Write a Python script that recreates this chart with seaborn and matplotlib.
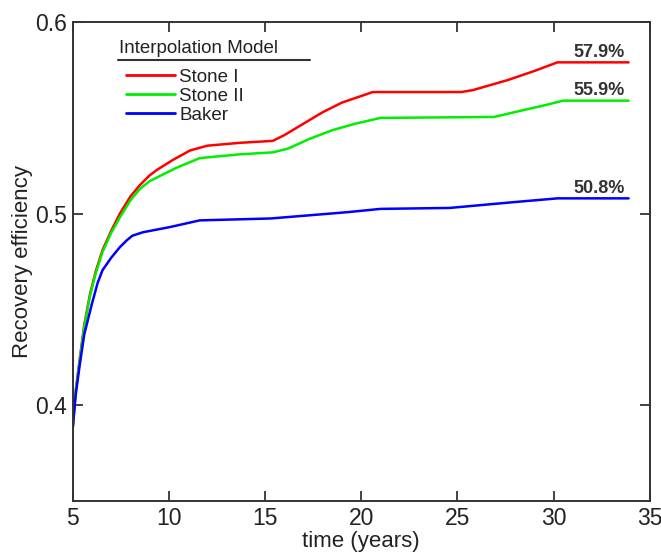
import numpy as np
import pandas as pd
import matplotlib
matplotlib.use("Agg")
import matplotlib.pyplot as plt
import seaborn as sns

# Recovery efficiency over time for three relative-permeability interpolation models
stone1_t = [5, 5.15, 5.35, 5.6, 5.9, 6.2, 6.55, 7.0, 7.45, 8.0, 8.5, 9.0, 9.4, 10.2,
            11.1, 12, 13.7, 15.4, 16, 17, 18, 19, 20.6, 25.2, 25.8, 27.6, 29, 30.2,
            33.9]
stone1_e = [0.388, 0.407, 0.423, 0.442, 0.458, 0.470, 0.481, 0.491, 0.500, 0.509,
            0.515, 0.520, 0.523, 0.528, 0.533, 0.5355, 0.537, 0.538, 0.541, 0.547,
            0.553, 0.558, 0.5635, 0.5635, 0.5645, 0.5697, 0.5745, 0.579, 0.579]

stone2_t = [5, 5.15, 5.35, 5.6, 5.9, 6.2, 6.55, 7.0, 7.45, 8.0, 8.5, 9.0, 9.4, 10.4,
            11.6, 13.7, 15.4, 16.2, 17.3, 18.5, 19.7, 21, 26.9, 28.4, 29.5, 30.5,
            33.9]
stone2_e = [0.388, 0.407, 0.422, 0.441, 0.457, 0.469, 0.480, 0.490, 0.498, 0.507,
            0.513, 0.517, 0.519, 0.524, 0.529, 0.531, 0.532, 0.534, 0.539, 0.5436,
            0.547, 0.550, 0.5505, 0.554, 0.5565, 0.559, 0.559]

baker_t = [5, 5.15, 5.35, 5.6, 6.0, 6.3, 6.55, 7.0, 7.45, 7.8, 8.1, 8.65, 10.05,
           11.6, 15.3, 19.3, 21, 24.6, 27.9, 30.2, 33.9]
baker_e = [0.388, 0.405, 0.420, 0.437, 0.453, 0.464, 0.4705, 0.477, 0.4825, 0.486,
           0.4885, 0.4903, 0.493, 0.4965, 0.4975, 0.5008, 0.5025, 0.503, 0.506,
           0.508, 0.508]

models = ["Stone I", "Stone II", "Baker"]
final_labels = ["57.9%", "55.9%", "50.8%"]
colors = ["#ff0000", "#00ee00", "#0000ff"]

df = pd.concat([
    pd.DataFrame({"time": stone1_t, "eff": stone1_e, "model": models[0]}),
    pd.DataFrame({"time": stone2_t, "eff": stone2_e, "model": models[1]}),
    pd.DataFrame({"time": baker_t, "eff": baker_e, "model": models[2]}),
], ignore_index=True)

sns.set_style("white")
plt.rcParams["font.family"] = ["Liberation Sans", "DejaVu Sans"]

fig = plt.figure(figsize=(6.61, 5.53), dpi=100)
ax = fig.add_axes([0.110, 0.094, 0.873, 0.866])

sns.lineplot(data=df, x="time", y="eff", hue="model", hue_order=models,
             palette=colors, estimator=None, sort=False, linewidth=1.8,
             ax=ax, legend=False)

ax.set_xlim(5, 35)
ax.set_ylim(0.35, 0.6)
ax.set_xticks([5, 10, 15, 20, 25, 30, 35])
ax.set_yticks([0.4, 0.5, 0.6])
ax.set_yticklabels(["0.4", "0.5", "0.6"])
ax.tick_params(direction="in", length=7, width=1.2, bottom=True, left=True,
               top=True, right=True, labelsize=16.5, colors="#222222", pad=4)
for s in ax.spines.values():
    s.set_linewidth(1.4)
    s.set_color("#333333")

ax.set_xlabel("time (years)", fontsize=16, color="#222222", labelpad=1)
ax.set_ylabel("Recovery efficiency", fontsize=16, color="#222222", labelpad=2)

# final-value annotations at the right end of each curve
series_ends = [(stone1_t[-1], stone1_e[-1]), (stone2_t[-1], stone2_e[-1]),
               (baker_t[-1], baker_e[-1])]
for (t, e), lab in zip(series_ends, final_labels):
    ax.annotate(lab, xy=(t, e), xytext=(-3, 4), textcoords="offset points",
                ha="right", va="baseline", fontsize=13, fontweight="bold",
                color="#333333")

# legend with an underlined title
ax.text(0.081, 0.945, "Interpolation Model", transform=ax.transAxes,
        fontsize=13.5, color="#222222", ha="left", va="center")
ax.plot([0.078, 0.411], [0.921, 0.921], transform=ax.transAxes,
        color="#333333", linewidth=1.5, clip_on=False)
handles = [plt.Line2D([], [], color=c, linewidth=2) for c in colors]
ax.legend(handles, models, loc="upper left", bbox_to_anchor=(0.092, 0.903),
          frameon=False, fontsize=13.5, handlelength=2.65, handletextpad=0.2,
          labelspacing=0.1, borderpad=0.0, borderaxespad=0.0,
          labelcolor="#222222")

fig.savefig("out.png", dpi=100)
